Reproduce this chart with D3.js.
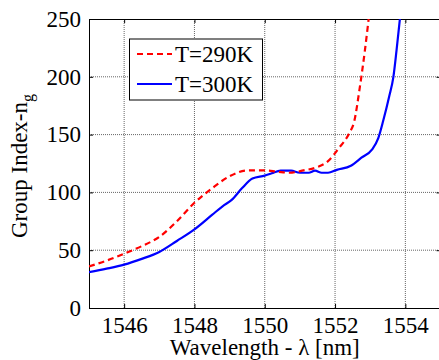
<!DOCTYPE html>
<html>
<head>
<meta charset="utf-8">
<script src="https://cdn.jsdelivr.net/npm/d3@7"></script>
<style>
  body { margin: 0; background: #fff; }
  text { font-family: "Liberation Serif", "Times New Roman", serif; fill: #000; }
</style>
</head>
<body>
<script>
// group index vs wavelength, two temperatures

// data
var wlRed = [1545, 1545.5, 1546, 1546.5, 1547, 1547.5, 1548, 1548.5, 1549, 1549.5, 1550, 1550.35, 1550.7, 1551.1, 1551.5, 1551.8, 1552.1, 1552.4, 1552.55, 1552.7, 1552.85, 1553.0];
var ngRed = [36, 41, 47, 53.5, 61.5, 75, 91, 103.5, 114, 119, 119, 118, 117, 119, 122, 127, 138, 151, 162, 190, 223, 262];

var wlBlue = [1545, 1545.5, 1546, 1546.5, 1547, 1547.5, 1548, 1548.5, 1548.8, 1549.06, 1549.35, 1549.65, 1550, 1550.2, 1550.45, 1550.75, 1551, 1551.25, 1551.43, 1551.62, 1551.8, 1552.05, 1552.45, 1552.75, 1553.05, 1553.23, 1553.37, 1553.54, 1553.66, 1553.75, 1553.88];
var ngBlue = [31, 34, 37.5, 42.5, 48.5, 58, 68, 80.5, 88, 93.5, 103.5, 112, 114.5, 116.5, 118.8, 118.8, 117, 117, 118.8, 117, 117, 119.5, 123, 130, 137, 147, 162, 183, 200, 223, 260];

var xTicks = [1546, 1548, 1550, 1552, 1554];
var yTicks = [0, 50, 100, 150, 200, 250];
var legendLabels = ["T=290K", "T=300K"];

// svg size and plot box
var w = 439;
var h = 360;
var mLeft = 89;
var mRight = 440.5;
var mTop = 19;
var mBottom = 308;

var svg = d3.select("body")
            .append("svg")
            .attr("width", w)
            .attr("height", h);

var x = d3.scaleLinear().domain([1545, 1555]).range([mLeft, mRight]);
var y = d3.scaleLinear().domain([0, 250]).range([mBottom, mTop]);

// grid lines, dotted
svg.append("g").selectAll("line")
   .data(xTicks)
   .enter()
   .append("line")
   .attr("x1", function(d) { return x(d); })
   .attr("x2", function(d) { return x(d); })
   .attr("y1", mTop)
   .attr("y2", mBottom)
   .attr("stroke", "#666")
   .attr("stroke-width", 1)
   .attr("stroke-dasharray", "1,1");

svg.append("g").selectAll("line")
   .data(yTicks.slice(1, -1))
   .enter()
   .append("line")
   .attr("x1", mLeft)
   .attr("x2", mRight)
   .attr("y1", function(d) { return y(d); })
   .attr("y2", function(d) { return y(d); })
   .attr("stroke", "#666")
   .attr("stroke-width", 1)
   .attr("stroke-dasharray", "1,1");

// axes (ticks inward, like matlab)
var xAxis = d3.axisBottom(x).tickValues(xTicks).tickSizeInner(-4).tickSizeOuter(0).tickPadding(9).tickFormat(d3.format("d"));
var yAxis = d3.axisLeft(y).tickValues(yTicks).tickSizeInner(-4).tickSizeOuter(0).tickPadding(8);
var xTop = d3.axisTop(x).tickValues(xTicks).tickSizeInner(-4).tickSizeOuter(0).tickFormat("");
var yRight = d3.axisRight(y).tickValues(yTicks).tickSizeInner(-4).tickSizeOuter(0).tickFormat("");

svg.append("g").attr("transform", "translate(0," + mBottom + ")").call(xAxis);
svg.append("g").attr("transform", "translate(" + mLeft + ",0)").call(yAxis);
svg.append("g").attr("transform", "translate(0," + mTop + ")").call(xTop);
svg.append("g").attr("transform", "translate(" + mRight + ",0)").call(yRight);

svg.selectAll(".domain").attr("stroke", "#000").attr("stroke-width", 1);
svg.selectAll(".tick line").attr("stroke", "#000");
svg.selectAll(".tick text")
   .style("font-family", "'Liberation Serif', serif")
   .style("font-size", "23px")
   .attr("fill", "#000");

// clip the curves to the plot box
svg.append("clipPath")
   .attr("id", "plotClip")
   .append("rect")
   .attr("x", mLeft)
   .attr("y", mTop)
   .attr("width", mRight - mLeft)
   .attr("height", mBottom - mTop);

var line = d3.line()
             .x(function(d) { return x(d[0]); })
             .y(function(d) { return y(d[1]); })
             .curve(d3.curveMonotoneX);

var redPts = d3.zip(wlRed, ngRed);
var bluePts = d3.zip(wlBlue, ngBlue);

svg.append("path")
   .datum(bluePts)
   .attr("clip-path", "url(#plotClip)")
   .attr("d", line)
   .attr("fill", "none")
   .attr("stroke", "#0000ff")
   .attr("stroke-width", 2.2);

svg.append("path")
   .datum(redPts)
   .attr("clip-path", "url(#plotClip)")
   .attr("d", line)
   .attr("fill", "none")
   .attr("stroke", "#ff0000")
   .attr("stroke-width", 2.2)
   .attr("stroke-dasharray", "6,4");

// legend
var legend = svg.append("g");
legend.append("rect")
      .attr("x", 129.5)
      .attr("y", 39)
      .attr("width", 133)
      .attr("height", 61)
      .attr("fill", "#fff")
      .attr("stroke", "#000")
      .attr("stroke-width", 1);

var legColors = ["#ff0000", "#0000ff"];
var legDash = ["6,4", null];
legendLabels.forEach(function(lab, i) {
	var ly = 54 + i * 30;
	legend.append("line")
	      .attr("x1", 137)
	      .attr("x2", 172)
	      .attr("y1", ly)
	      .attr("y2", ly)
	      .attr("stroke", legColors[i])
	      .attr("stroke-width", 2.2)
	      .attr("stroke-dasharray", legDash[i]);
	legend.append("text")
	      .attr("x", 175)
	      .attr("y", ly + 7.5)
	      .style("font-size", "23px")
	      .text(lab);
});

// x axis label
svg.append("text")
   .attr("x", (mLeft + mRight) / 2)
   .attr("y", 355)
   .style("text-anchor", "middle")
   .style("font-size", "23px")
   .text("Wavelength - \u03bb [nm]");

// y axis label with subscript g
var yl = svg.append("text")
            .attr("transform", "translate(27," + 166 + ") rotate(-90)")
            .style("text-anchor", "middle")
            .style("font-size", "23px");
yl.append("tspan").text("Group Index-n");
yl.append("tspan").attr("dy", 6).style("font-size", "16px").text("g");
</script>
</body>
</html>
